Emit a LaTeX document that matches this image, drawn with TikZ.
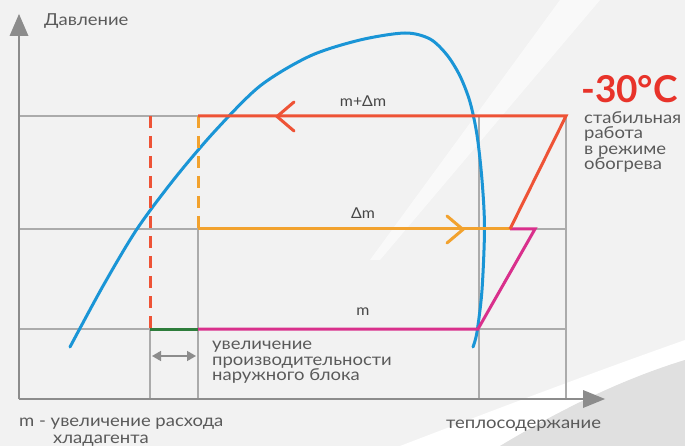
\documentclass[tikz,border=0pt]{standalone}
\usepackage{fontspec}
\setmainfont{Lato}
\newfontfamily\widefont[FakeStretch=1.12]{Lato}
\newfontfamily\midfont[FakeStretch=1.06]{Lato}
\usetikzlibrary{arrows.meta}
\definecolor{bgc}{HTML}{F2F2F2}
\definecolor{gridc}{HTML}{ABABAB}
\definecolor{axisc}{HTML}{8C8C8C}
\definecolor{txtc}{HTML}{5A5A5A}
\definecolor{redc}{HTML}{EE5336}
\definecolor{orgc}{HTML}{F2A22E}
\definecolor{magc}{HTML}{D9308C}
\definecolor{grnc}{HTML}{2E7D3C}
\definecolor{bluc}{HTML}{1A95D6}
\definecolor{hotc}{HTML}{E8332A}
\tikzset{
  gridline/.style={draw=gridc, line width=1.6pt},
  axisline/.style={draw=axisc, line width=1.6pt},
  flow/.style={line width=3pt, line join=miter},
  dashflow/.style={line width=3pt, dash pattern=on 12pt off 8pt},
  lbl/.style={text=txtc, font=\widefont\fontsize{16.5}{15.5}\selectfont, inner sep=0pt},
  mlbl/.style={text=black!72, font=\midfont\fontsize{15}{15}\selectfont, inner sep=0pt},
}
\begin{document}
\begin{tikzpicture}[x=1pt,y=-1pt]
% background
\fill[bgc] (0,0) rectangle (685,446);
\useasboundingbox (0,0) rectangle (685,446);
\fill[white, opacity=0.6] (560,0) -- (600,0) -- (380,260) -- (370,260) -- cycle;
\fill[white] (400,446) .. controls (520,400) and (600,370) .. (685,340) -- (685,360) .. controls (620,380) and (560,410) .. (500,446) -- cycle;
\fill[black!12] (500,446) .. controls (560,410) and (620,380) .. (685,360) -- (685,446) -- cycle;

% grid
\draw[gridline] (19,116) -- (566,116);
\draw[gridline] (19,229) -- (566,229);
\draw[gridline] (19,329) -- (566,329);
\draw[gridline] (150,329) -- (150,399);
\draw[gridline] (198,229) -- (198,399);
\draw[gridline] (479,116) -- (479,399);
\draw[gridline] (566,116) -- (566,399);

% axes
\draw[axisline] (19,399) -- (19,30);
\fill[axisc] (19,14) -- (28.5,36) -- (9.5,36) -- cycle;
\draw[axisline] (19,399) -- (588,399);
\fill[axisc] (605,399) -- (583,390) -- (583,408) -- cycle;

% blue curve
\draw[bluc, line width=3pt, line cap=round] plot[smooth, tension=0.5] coordinates {
(70,347) (103,286) (137,229) (175,178) (215,131) (260,86) (310,56) (360,40) (405,33) (430,39) (447,55) (460,76) (470,102) (477,135) (482,180) (484.5,228) (482,290) (477,332) (473,347)};

% flows
\draw[redc, dashflow] (150,116) -- (150,329);
\draw[orgc, dashflow] (198,116) -- (198,229);
\draw[magc, flow] (198,329) -- (478,329) -- (535,229) -- (510,229);
\draw[orgc, flow] (198,229) -- (510,229);
\draw[redc, flow] (198,116) -- (566,116) -- (510,229);
\draw[grnc, flow] (150,329) -- (198,329);
\draw[redc, line width=3pt, line cap=round] (294,102) -- (277,116.5) -- (294,131);
\draw[orgc, line width=3pt, line cap=round] (447,216) -- (463,229.5) -- (447,243);

% double arrow
\draw[axisc, line width=1.6pt, {Triangle[length=9pt,width=10pt]}-{Triangle[length=9pt,width=10pt]}] (152,356) -- (196,356);

% texts
\node[lbl, anchor=west] (p) at (44,21) {Давление};
\node[text=hotc, font=\fontsize{37}{37}\selectfont\bfseries, inner sep=0pt, anchor=west] (t) at (581,89) {-30°C};
\node[lbl, anchor=north west, align=left] (s) at (584,111) {стабильная\\работа\\в режиме\\обогрева};
\node[mlbl] (m1) at (363,101) {m+Δm};
\node[mlbl] (m2) at (363,213) {Δm};
\node[mlbl] (m3) at (363,312) {m};
\node[lbl, anchor=north west, align=left] (u) at (212,341) {увеличение\\производительности\\наружного блока};
\node[lbl, anchor=west] (b1) at (19,424) {m - увеличение расхода};
\node[lbl, anchor=west] (b2) at (53,441) {хладагента};
\node[lbl, anchor=west] (h) at (446,426) {теплосодержание};
\end{tikzpicture}
\end{document}
